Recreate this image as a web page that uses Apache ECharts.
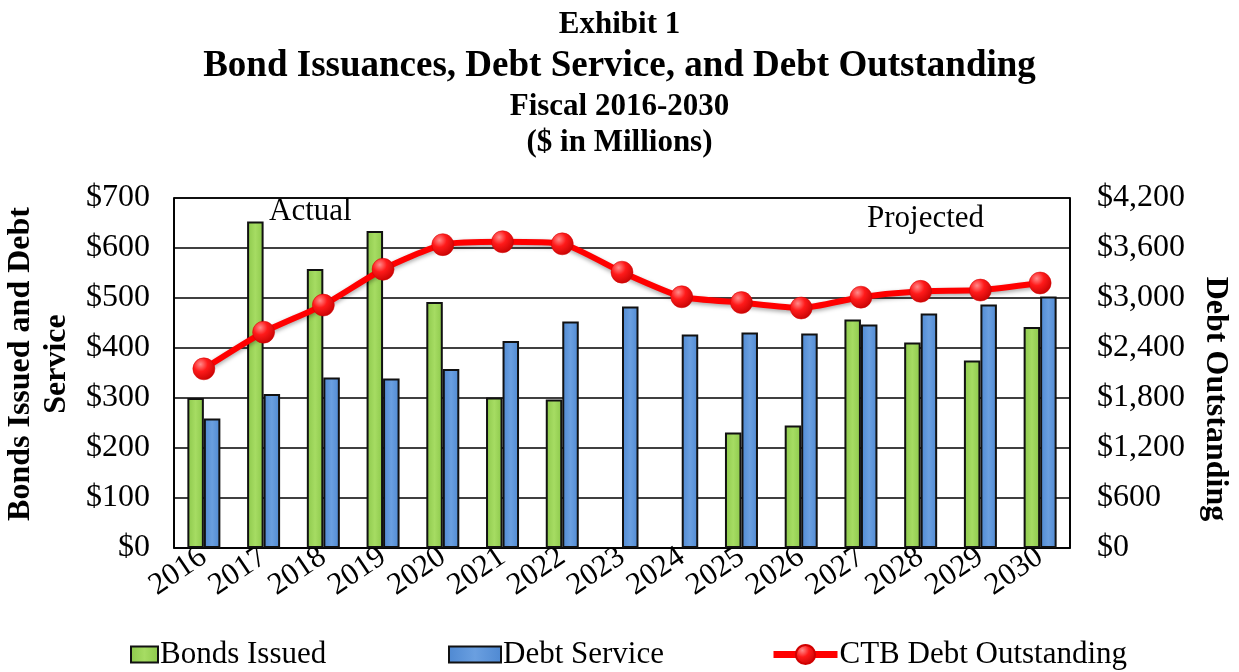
<!DOCTYPE html>
<html>
<head>
<meta charset="utf-8">
<script src="https://cdn.jsdelivr.net/npm/echarts@6/dist/echarts.min.js"></script>
<style>
    html, body { margin: 0; padding: 0; background: #fff; }
    #main { width: 1239px; height: 672px; }
</style>
</head>
<body>
<div id="main"></div>
<script>
// 数据
var years = ['2016', '2017', '2018', '2019', '2020', '2021', '2022', '2023', '2024',
    '2025', '2026', '2027', '2028', '2029', '2030'];
var bondsIssued = [300, 653, 558, 634, 492, 301, 297, null, null, 231, 245, 457, 411, 375, 442];
var debtService = [259, 308, 341, 339, 358, 414, 453, 483, 427, 431, 429, 447, 469, 487, 503];
var debtOutstanding = [2150, 2590, 2915, 3345, 3640, 3675, 3650, 3310, 3015, 2945, 2880, 3010, 3080, 3095, 3180];
var leftTicks = [0, 100, 200, 300, 400, 500, 600, 700];
var rightTicks = [0, 600, 1200, 1800, 2400, 3000, 3600, 4200];

var SERIF = '"Liberation Serif", "Times New Roman", serif';

function money(v) {
    return '$' + v.toLocaleString('en-US');
}
function barFill(light, base) {
    return new echarts.graphic.LinearGradient(0, 0, 1, 0, [
        {offset: 0, color: base},
        {offset: 0.5, color: light},
        {offset: 1, color: base}
    ]);
}
var greenFill = barFill('#a6dc63', '#8cc84b');
var blueFill = barFill('#6a9fe0', '#4f89d2');
var ballFill = new echarts.graphic.RadialGradient(0.35, 0.3, 0.8, [
    {offset: 0, color: '#ff8a8a'},
    {offset: 0.4, color: '#ff1a1a'},
    {offset: 1, color: '#c00000'}
]);

var titleStyle = {fontFamily: SERIF, fontSize: 31, fontWeight: 'bold', color: '#000'};
var legendText = {fontFamily: SERIF, fontSize: 31, color: '#000', padding: [0, 0, 0, -3]};

var chart = echarts.init(document.getElementById('main'));
var option = {
    animation: false,
    title: [
        {text: 'Exhibit 1', left: 'center', top: 4, textStyle: titleStyle},
        {text: 'Bond Issuances, Debt Service, and Debt Outstanding', left: 'center', top: 43,
            textStyle: {fontFamily: SERIF, fontSize: 37, fontWeight: 'bold', color: '#000'}},
        {text: 'Fiscal 2016-2030', left: 'center', top: 86, textStyle: titleStyle},
        {text: '($ in Millions)', left: 'center', top: 122, textStyle: titleStyle}
    ],
    grid: {
        left: 174, right: 169, top: 198, bottom: 124,
        outerBoundsMode: 'none', containLabel: false,
        show: true, borderColor: '#000', borderWidth: 1.5, backgroundColor: 'transparent'
    },
    legend: [
        {
            data: [{name: 'Bonds Issued', icon: 'rect'}],
            left: 130, bottom: 2, padding: 0, itemWidth: 27, itemHeight: 16,
            textStyle: legendText
        },
        {
            data: [{name: 'Debt Service', icon: 'rect'}],
            left: 448, bottom: 2, padding: 0, itemWidth: 52, itemHeight: 16,
            textStyle: legendText
        },
        {
            data: [{name: 'CTB Debt Outstanding', lineStyle: {width: 7}}],
            left: 770, bottom: 2, padding: 0, itemWidth: 64, itemHeight: 24,
            textStyle: legendText
        }
    ],
    xAxis: {
        type: 'category',
        data: years,
        boundaryGap: true,
        axisLine: {lineStyle: {color: '#000', width: 1.5}},
        axisTick: {show: false},
        splitLine: {
            show: true,
            interval: function (i) { return i === 9; },
            lineStyle: {color: '#000', width: 1.5}
        },
        axisLabel: {
            interval: 0, rotate: 34, margin: 6,
            fontFamily: SERIF, fontSize: 31, color: '#000'
        }
    },
    yAxis: [
        {
            type: 'value', min: 0, max: 700, interval: 100,
            name: 'Bonds Issued and Debt\nService', nameLocation: 'middle', nameGap: 97,
            nameTextStyle: {fontFamily: SERIF, fontSize: 32, fontWeight: 'bold', color: '#000', lineHeight: 36,
                padding: [0, 0, 0, 18]},
            axisLine: {show: true, lineStyle: {color: '#000', width: 1.5}},
            axisTick: {show: false},
            splitLine: {show: true, lineStyle: {color: '#000', width: 1.5}},
            axisLabel: {
                margin: 24, fontFamily: SERIF, fontSize: 32, color: '#000',
                formatter: function (v) { return leftTicks.indexOf(v) >= 0 ? money(v) : ''; }
            }
        },
        {
            type: 'value', min: 0, max: 4200, interval: 600,
            name: 'Debt Outstanding', nameLocation: 'middle', nameGap: 129, nameRotate: -90,
            nameTextStyle: {fontFamily: SERIF, fontSize: 32, fontWeight: 'bold', color: '#000', padding: [0, 0, 0, 52]},
            axisLine: {show: true, lineStyle: {color: '#000', width: 1.5}},
            axisTick: {show: false},
            splitLine: {show: false},
            axisLabel: {
                margin: 27, fontFamily: SERIF, fontSize: 32, color: '#000',
                formatter: function (v) { return rightTicks.indexOf(v) >= 0 ? money(v) : ''; }
            }
        }
    ],
    series: [
        {
            name: 'Bonds Issued', type: 'bar', yAxisIndex: 0,
            data: bondsIssued, barWidth: 16.5, barGap: '0%',
            itemStyle: {color: greenFill, borderColor: '#111', borderWidth: 2}
        },
        {
            name: 'Debt Service', type: 'bar', yAxisIndex: 0,
            data: debtService, barWidth: 16.5, barGap: '0%',
            itemStyle: {color: blueFill, borderColor: '#111', borderWidth: 2}
        },
        {
            name: 'CTB Debt Outstanding', type: 'line', yAxisIndex: 1,
            data: debtOutstanding, smooth: 0.2,
            symbol: 'circle', symbolSize: 22,
            lineStyle: {color: '#ff0000', width: 6, shadowColor: 'rgba(0,0,0,0.35)', shadowBlur: 4, shadowOffsetY: 2},
            itemStyle: {color: ballFill, borderColor: '#d00000', borderWidth: 0.5},
            z: 5
        }
    ],
    graphic: [
        {type: 'text', left: 269, top: 196, style: {text: 'Actual', fontFamily: SERIF, fontSize: 31, fill: '#000'}},
        {type: 'text', left: 867, top: 203, style: {text: 'Projected', fontFamily: SERIF, fontSize: 31, fill: '#000'}}
    ]
};
chart.setOption(option);
</script>
</body>
</html>
